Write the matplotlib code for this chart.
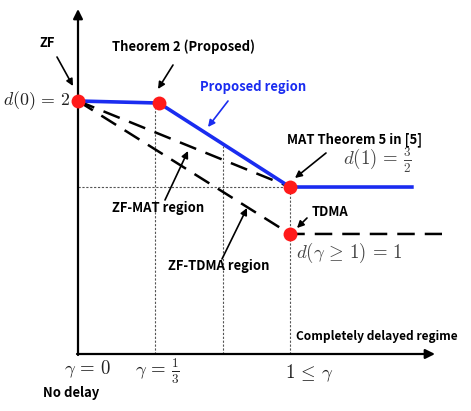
import matplotlib
matplotlib.use("Agg")
import matplotlib.pyplot as plt

plt.rcParams['mathtext.fontset'] = 'cm'

# ---- data (schematic units: x = gamma, y = drawn DoF height) ----
proposed_x = [0.0, 0.382, 1.0, 1.575]
proposed_y = [2.0, 1.984, 1.320, 1.320]
zfmat_x = [0.0, 1.0]
zfmat_y = [2.0, 1.320]
zftdma_x = [0.0, 1.0, 1.717]
zftdma_y = [2.0, 0.949, 0.949]
corner_x = [0.0, 0.382, 1.0, 1.0]
corner_y = [2.0, 1.984, 1.320, 0.949]
vline_x = [0.365, 0.684, 1.0]
vline_top = [1.96, 1.645, 1.320]
hline_y = 1.320

W, H = 471, 411
X0, Y0, SX, SY = 78.0, 354.0, 212.0, 126.5


def px(x, y):
    return ((x - X0) / SX, (Y0 - y) / SY)


fig = plt.figure(figsize=(W / 100, H / 100), dpi=100)
ax = fig.add_axes([0, 0, 1, 1])
ax.set_xlim(-X0 / SX, (W - X0) / SX)
ax.set_ylim((Y0 - H) / SY, Y0 / SY)
ax.axis('off')

# axes arrows
ax.annotate('', xy=px(78, 9), xytext=px(78, 355),
            arrowprops=dict(arrowstyle='-|>', color='black', lw=1.6,
                            mutation_scale=14, shrinkA=0, shrinkB=0))
ax.annotate('', xy=px(435, 354), xytext=px(77, 354),
            arrowprops=dict(arrowstyle='-|>', color='black', lw=1.6,
                            mutation_scale=14, shrinkA=0, shrinkB=0))

# guide lines
for xv, yt in zip(vline_x, vline_top):
    ax.plot([xv, xv], [0, yt], color='#555555', lw=0.8, ls=(0, (2, 1.5)), zorder=1)
ax.plot([0, 1.0], [hline_y, hline_y], color='#555555', lw=0.8, ls=(0, (2, 1.5)), zorder=1)

# regions
ax.plot(zfmat_x, zfmat_y, color='black', lw=1.8, ls=(0, (7, 4)), zorder=2)
ax.plot(zftdma_x, zftdma_y, color='black', lw=1.8, ls=(0, (7, 4)), zorder=2)
ax.plot(proposed_x, proposed_y, color='#1a2cf0', lw=2.6, zorder=3)
ax.plot(corner_x, corner_y, 'o', color='#ff1a1a', ms=10, zorder=4, mec='none')

bold = dict(family=['Noto Sans CJK KR', 'DejaVu Sans'], fontweight='bold', fontsize=9.4)


def arrow(x1, y1, x2, y2, color='black'):
    ax.annotate('', xy=px(x2, y2), xytext=px(x1, y1),
                arrowprops=dict(arrowstyle='-|>', color=color, lw=1.2,
                                mutation_scale=10, shrinkA=0, shrinkB=0))


ax.text(*px(47, 43), 'ZF', ha='center', va='center', **bold)
arrow(57, 57, 73, 86)
ax.text(*px(112, 47), 'Theorem 2 (Proposed)', ha='left', va='center', **bold)
arrow(173, 65, 158, 89)
ax.text(*px(200, 87), 'Proposed region', ha='left', va='center', color='#1a2cf0', **bold)
arrow(228, 101, 208, 127, color='#1a2cf0')
ax.text(*px(287, 140), 'MAT Theorem 5 in [5]', ha='left', va='center', **bold)
arrow(326, 153, 295, 178)
ax.text(*px(312, 212), 'TDMA', ha='left', va='center', **bold)
arrow(307, 218, 297, 228)
ax.text(*px(112, 208), 'ZF-MAT region', ha='left', va='center', **bold)
arrow(165, 200, 188, 151)
ax.text(*px(168, 266), 'ZF-TDMA region', ha='left', va='center', **bold)
arrow(222, 259, 247, 208)
ax.text(*px(43, 393), 'No delay', ha='left', va='center', **bold)
ax.text(*px(296, 336), 'Completely delayed regime', ha='left', va='center',
        **{**bold, 'fontsize': 8.6})

mt = dict(fontsize=13.5, color='#222222')
ax.text(*px(70, 101), r'$d(0)\,=\,2$', ha='right', va='center',
        **{**mt, 'fontsize': 12.8})
ax.text(*px(343, 160), r'$d(1)\,=\,\frac{3}{2}$', ha='left', va='center', color='#444444', fontsize=13.5)
ax.text(*px(296, 253), r'$d(\gamma\,\geq\,1)\,=\,1$', ha='left', va='center', color='#444444', fontsize=13.5)
ax.text(*px(87, 369), r'$\gamma\,=\,0$', ha='center', va='center', **mt)
ax.text(*px(157, 371), r'$\gamma\,=\,\frac{1}{3}$', ha='center', va='center', **mt)
ax.text(*px(309, 373), r'$1\,\leq\,\gamma$', ha='center', va='center', **mt)

fig.savefig('out.png', dpi=100)
